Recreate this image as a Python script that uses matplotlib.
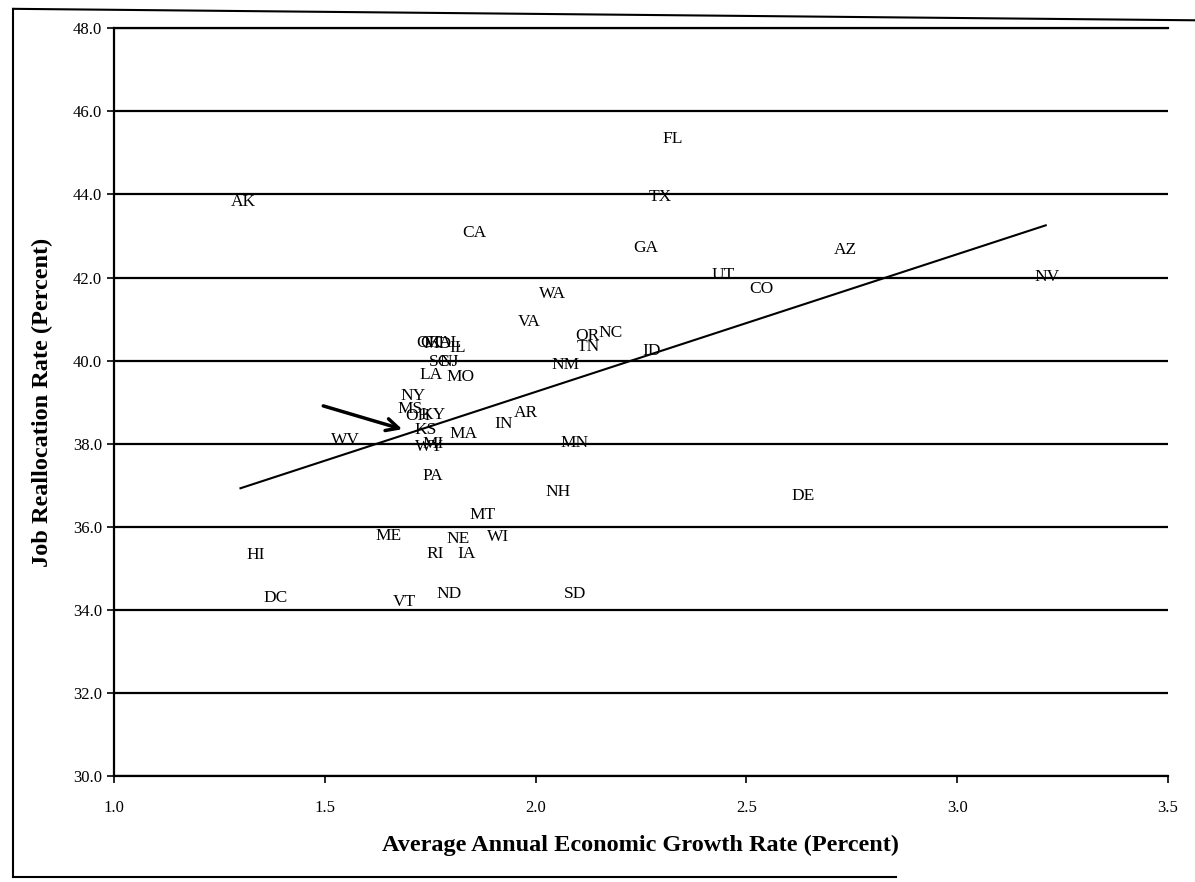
import numpy as np
import matplotlib
matplotlib.use("Agg")
import matplotlib.pyplot as plt
from matplotlib.lines import Line2D

plt.rcParams['font.family'] = ['Liberation Serif', 'DejaVu Serif']

# state labels, growth rate (x) and job reallocation rate (y)
states = ['FL', 'TX', 'AK', 'CA', 'GA', 'AZ', 'UT', 'CO', 'NV', 'WA',
          'VA', 'OR', 'NC', 'TN', 'ID', 'NM',
          'OK', 'CT', 'MD', 'AL', 'IL', 'SC', 'NJ', 'LA', 'MO',
          'NY', 'MS', 'OH', 'KY', 'KS', 'WY', 'MI', 'WV', 'MA', 'IN', 'AR', 'MN',
          'PA', 'NH', 'DE', 'MT', 'ME', 'NE', 'WI', 'HI', 'RI', 'IA',
          'DC', 'VT', 'ND', 'SD']
growth = [2.324, 2.295, 1.308, 1.854, 2.262, 2.734, 2.445, 2.535, 3.213, 2.039,
          1.984, 2.122, 2.179, 2.124, 2.274, 2.072,
          1.748, 1.752, 1.768, 1.797, 1.816, 1.773, 1.795, 1.752, 1.823,
          1.709, 1.702, 1.721, 1.757, 1.738, 1.748, 1.757, 1.548, 1.830, 1.923, 1.977, 2.093,
          1.757, 2.053, 2.634, 1.873, 1.650, 1.816, 1.911, 1.337, 1.761, 1.837,
          1.384, 1.688, 1.795, 2.093]
realloc = [45.33, 43.93, 43.81, 43.07, 42.71, 42.66, 42.06, 41.72, 42.01, 41.60,
           40.93, 40.59, 40.66, 40.32, 40.23, 39.89,
           40.42, 40.42, 40.40, 40.42, 40.30, 39.96, 39.96, 39.65, 39.60,
           39.15, 38.83, 38.66, 38.69, 38.33, 37.92, 38.00, 38.09, 38.23, 38.47, 38.74, 38.01,
           37.22, 36.84, 36.74, 36.28, 35.78, 35.70, 35.75, 35.32, 35.34, 35.34,
           34.28, 34.19, 34.38, 34.38]

x = np.array(growth)
y = np.array(realloc)

fig = plt.figure(figsize=(11.95, 8.82), dpi=100)
ax = fig.add_axes([0.0954, 0.120, 0.8820, 0.848])

ax.set_xlim(1.0, 3.5)
ax.set_ylim(30.0, 48.0)
ax.set_yticks(np.arange(30, 48.1, 2))
ax.set_xticks(np.arange(1.0, 3.51, 0.5))
ax.yaxis.set_major_formatter(matplotlib.ticker.FormatStrFormatter('%.1f'))
ax.xaxis.set_major_formatter(matplotlib.ticker.FormatStrFormatter('%.1f'))
ax.grid(axis='y', color='black', linewidth=1.6)
ax.set_axisbelow(True)
ax.spines['right'].set_visible(False)
for s in ['top', 'left', 'bottom']:
    ax.spines[s].set_linewidth(1.6)
ax.tick_params(axis='both', direction='out', length=5, width=1.2, labelsize=12)
ax.tick_params(axis='x', pad=12)

for s, xi, yi in zip(states, x, y):
    ax.text(xi, yi, s, ha='center', va='center', fontsize=12.5)

# trend line
b1, b0 = np.polyfit(x, y, 1)
xl = np.array([1.3, 3.21])
ax.plot(xl, b0 + b1 * xl, color='black', linewidth=1.5)

ax.annotate('', xy=(1.69, 38.33), xytext=(1.49, 38.93),
            arrowprops=dict(arrowstyle='->', color='black', lw=2.5,
                            mutation_scale=22))

ax.set_xlabel('Average Annual Economic Growth Rate (Percent)',
              fontsize=17.5, fontweight='bold', labelpad=14)
ax.set_ylabel('Job Reallocation Rate (Percent)',
              fontsize=17.5, fontweight='bold', labelpad=14)

# page frame
fig.add_artist(Line2D([0.011, 0.011], [0.006, 0.99], color='black', lw=1.5))
fig.add_artist(Line2D([0.011, 1.0], [0.99, 0.977], color='black', lw=1.5))
fig.add_artist(Line2D([0.011, 0.75], [0.006, 0.006], color='black', lw=1.5))

fig.savefig('out.png', dpi=100)
